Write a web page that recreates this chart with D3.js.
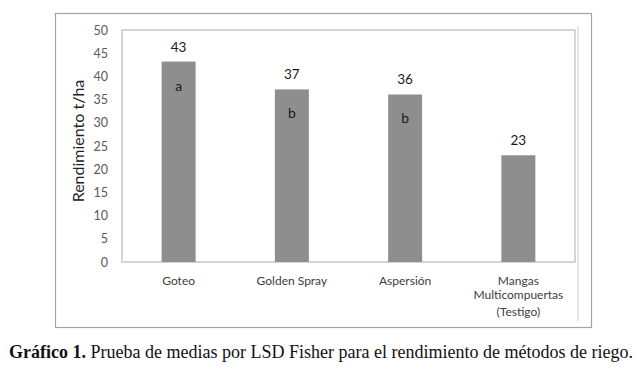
<!DOCTYPE html>
<html>
<head>
<meta charset="utf-8">
<script src="https://cdn.jsdelivr.net/npm/d3@7"></script>
<style>
  body { margin: 0; background: #fff; }
  svg { display: block; }
</style>
</head>
<body>
<svg id="chart" width="644" height="370"></svg>
<script>
// Data
const categories = ["Goteo", "Golden Spray", "Aspersión", "Mangas Multicompuertas (Testigo)"];
const catLines = [["Goteo"], ["Golden Spray"], ["Aspersión"], ["Mangas", "Multicompuertas", "(Testigo)"]];
const values = [43.2, 37.2, 36.1, 23.0];
const valueLabels = ["43", "37", "36", "23"];
const groupLetters = ["a", "b", "b", ""];
const yTicks = [0, 5, 10, 15, 20, 25, 30, 35, 40, 45, 50];

const svg = d3.select("#chart");
const font = "Lato, 'Open Sans', sans-serif";

// outer frame of the figure
svg.append("rect")
    .attr("x", 55.5).attr("y", 13.5)
    .attr("width", 536).attr("height", 314)
    .attr("fill", "#fff")
    .attr("stroke", "#a3a3a3")
    .attr("stroke-width", 1.2);

const plot = { left: 122, right: 575, top: 30, bottom: 262 };

const x = d3.scaleBand()
    .domain(categories)
    .range([plot.left, plot.right])
    .padding(0);

const y = d3.scaleLinear()
    .domain([0, 50])
    .range([plot.bottom, plot.top]);

// plot area frame
svg.append("rect")
    .attr("x", plot.left).attr("y", plot.top)
    .attr("width", plot.right - plot.left)
    .attr("height", plot.bottom - plot.top)
    .attr("fill", "none")
    .attr("stroke", "#c8c8c8")
    .attr("stroke-width", 1.5);

// faint strip right of the plot
svg.append("line")
    .attr("x1", 578).attr("x2", 578)
    .attr("y1", 26).attr("y2", 321)
    .attr("stroke", "#e6e6e6")
    .attr("stroke-width", 2);

// y axis ticks
const yAxis = d3.axisLeft(y).tickValues(yTicks).tickSize(0).tickPadding(14);
const gy = svg.append("g")
    .attr("transform", `translate(${plot.left},0)`)
    .call(yAxis);
gy.select(".domain").remove();
gy.selectAll("text")
    .attr("font-family", font)
    .attr("font-size", 12.5)
    .attr("fill", "#595959");

// y axis title
svg.append("text")
    .attr("transform", `translate(84,${(plot.top + plot.bottom) / 2 - 5}) rotate(-90)`)
    .attr("text-anchor", "middle")
    .attr("font-family", font)
    .attr("font-size", 16)
    .attr("fill", "#222")
    .text("Rendimiento t/ha");

// bars
const barW = x.bandwidth() * 0.3;
svg.selectAll(".bar")
    .data(values)
    .join("rect")
    .attr("class", "bar")
    .attr("x", (d, i) => x(categories[i]) + x.bandwidth() / 2 - barW / 2)
    .attr("y", d => y(d))
    .attr("width", barW)
    .attr("height", d => y(0) - y(d))
    .attr("fill", "#8e8e8e");

// value labels
svg.selectAll(".val")
    .data(values)
    .join("text")
    .attr("class", "val")
    .attr("x", (d, i) => x(categories[i]) + x.bandwidth() / 2)
    .attr("y", d => y(d) - 10)
    .attr("text-anchor", "middle")
    .attr("font-family", font)
    .attr("font-size", 13.5)
    .attr("fill", "#1a1a1a")
    .text((d, i) => valueLabels[i]);

// group letters inside bars
svg.selectAll(".grp")
    .data(values)
    .join("text")
    .attr("class", "grp")
    .attr("x", (d, i) => x(categories[i]) + x.bandwidth() / 2)
    .attr("y", d => y(d) + 29)
    .attr("text-anchor", "middle")
    .attr("font-family", font)
    .attr("font-size", 14)
    .attr("fill", "#1a1a1a")
    .text((d, i) => groupLetters[i]);

// category labels
const cat = svg.selectAll(".cat")
    .data(catLines)
    .join("text")
    .attr("class", "cat")
    .attr("x", (d, i) => x(categories[i]) + x.bandwidth() / 2)
    .attr("y", 285)
    .attr("text-anchor", "middle")
    .attr("font-family", font)
    .attr("font-size", 12)
    .attr("fill", "#404040");
cat.selectAll("tspan")
    .data(d => d)
    .join("tspan")
    .attr("x", function () { return d3.select(this.parentNode).attr("x"); })
    .attr("dy", (d, i) => i === 0 ? 0 : (i === 1 ? 14 : 17))
    .text(d => d);

// caption
const cap = svg.append("text")
    .attr("x", 321)
    .attr("y", 358)
    .attr("text-anchor", "middle")
    .attr("font-family", "'Liberation Serif', 'Times New Roman', serif")
    .attr("font-size", 18)
    .attr("fill", "#111");
cap.append("tspan").attr("font-weight", "bold").text("Gráfico 1.");
cap.append("tspan").text(" Prueba de medias por LSD Fisher para el rendimiento de métodos de riego.");
</script>
</body>
</html>
